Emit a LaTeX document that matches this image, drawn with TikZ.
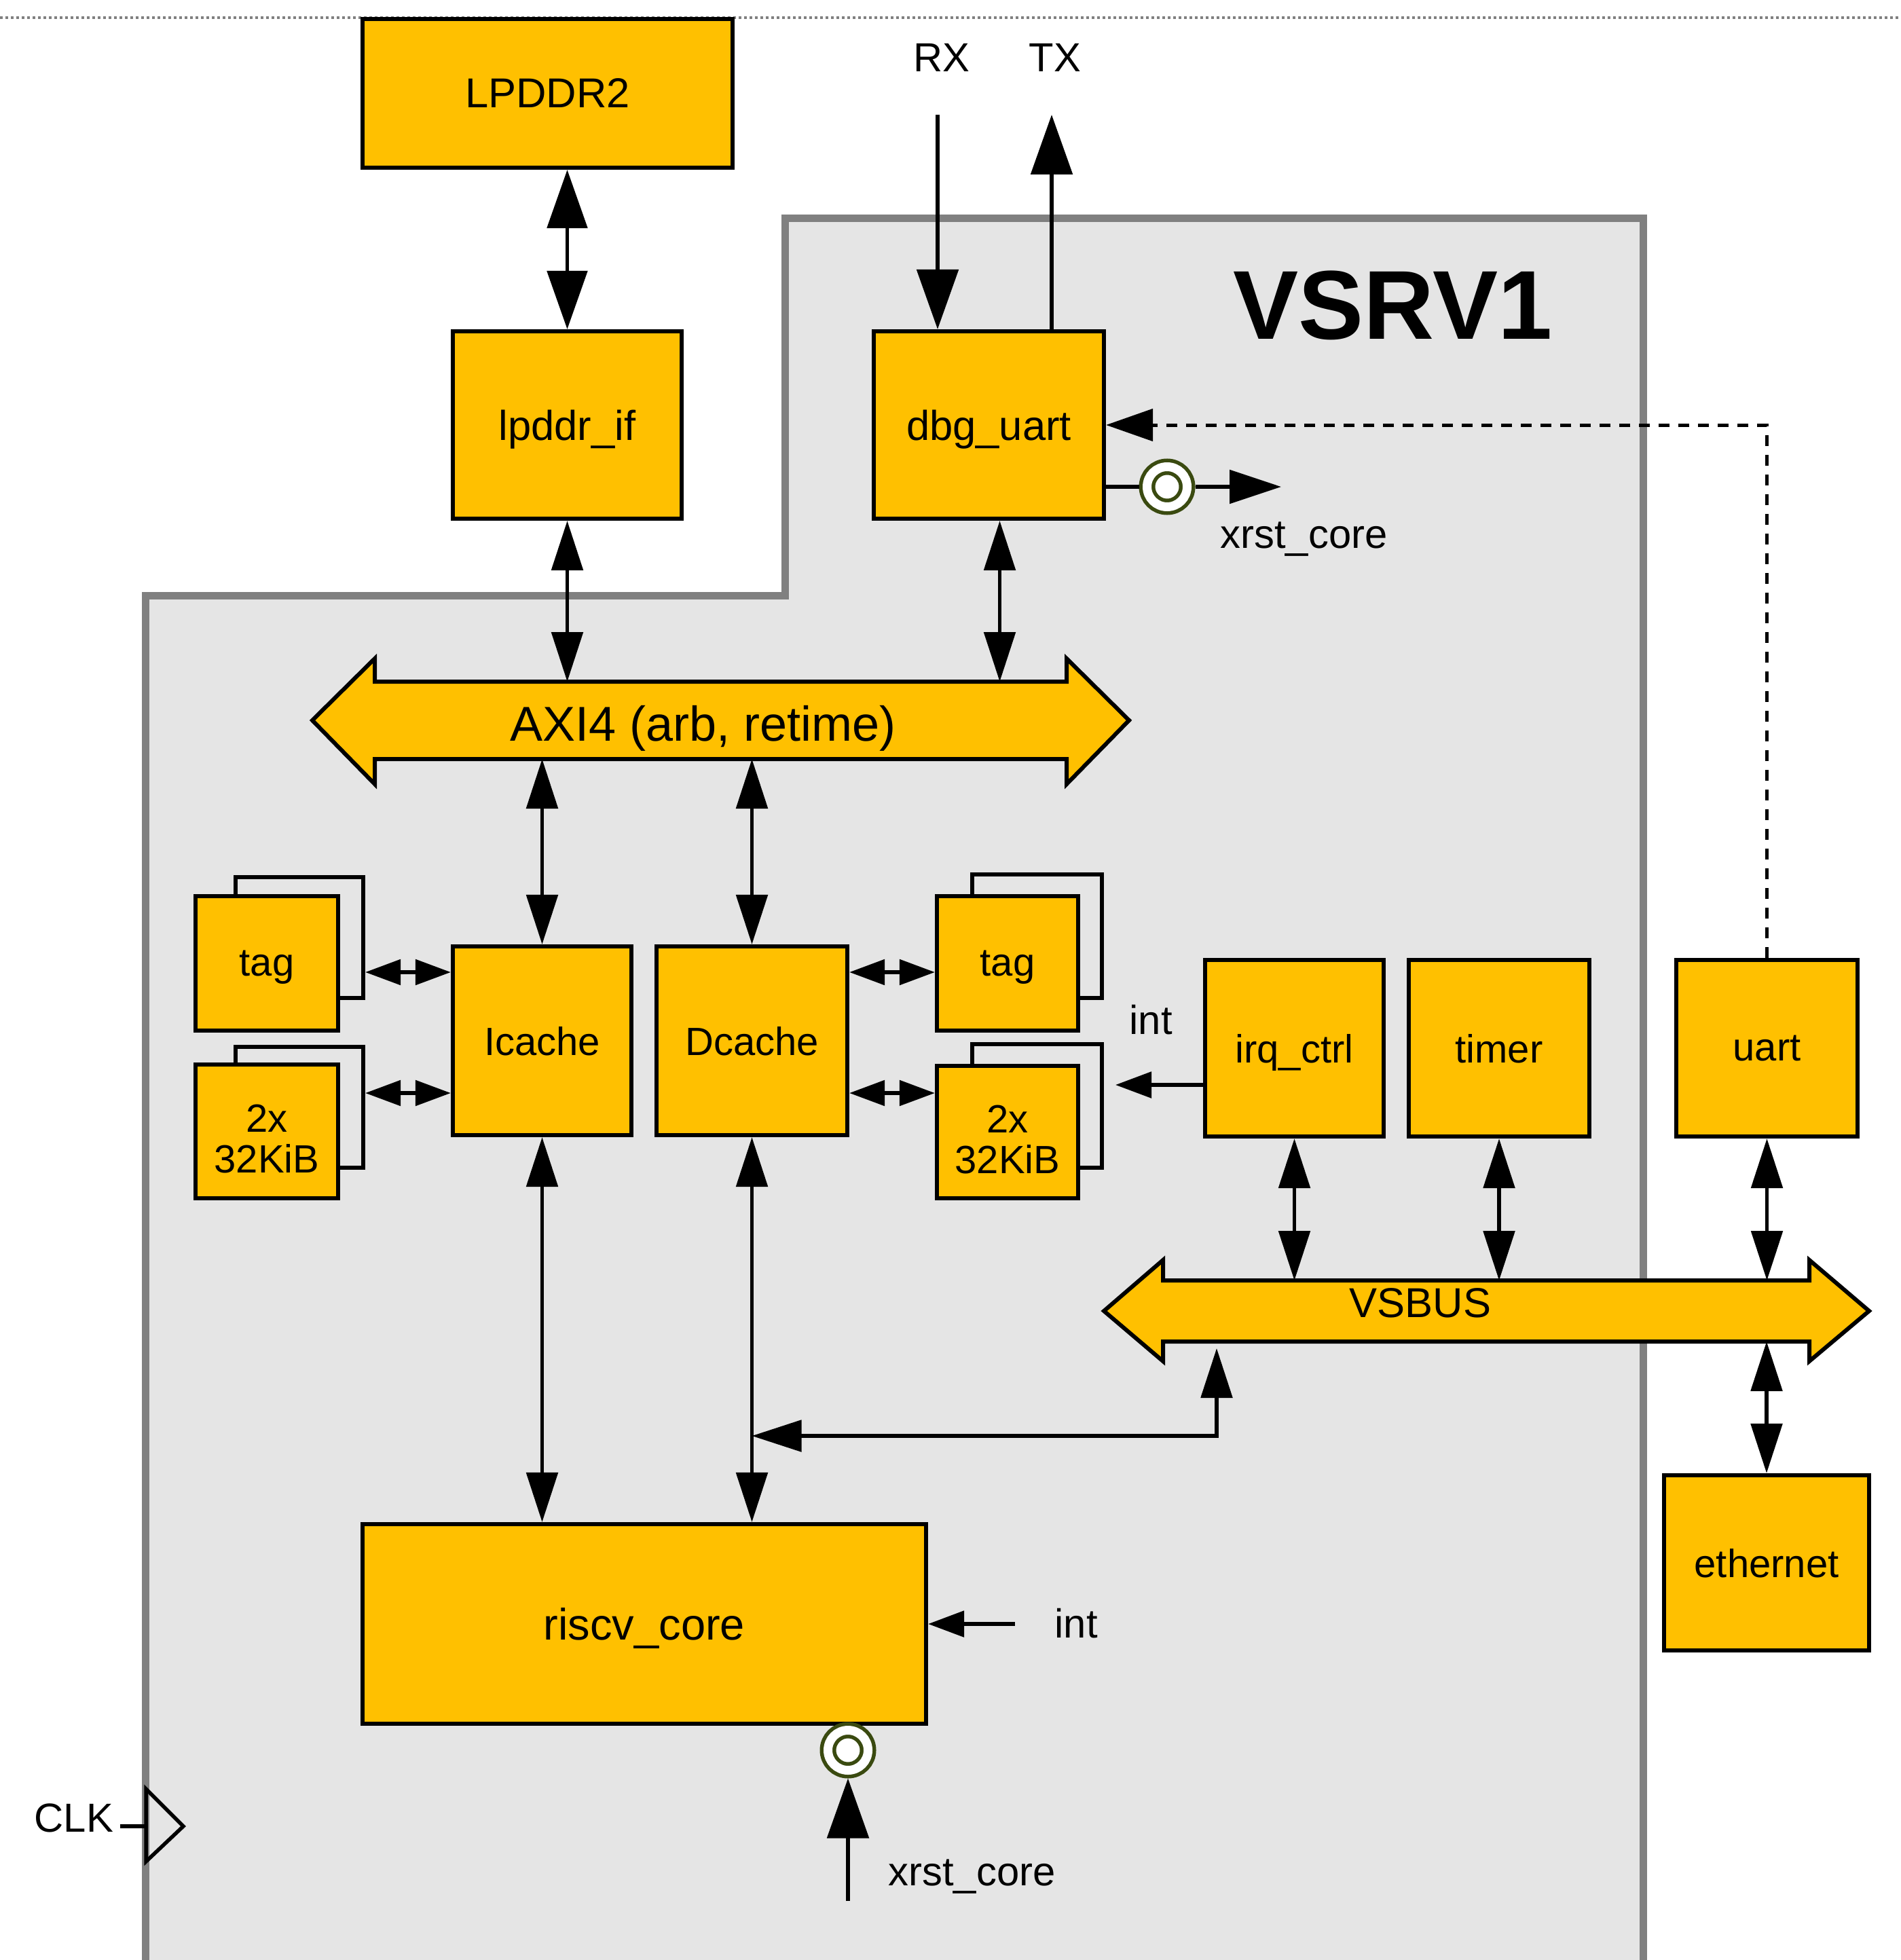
\documentclass[tikz,border=0pt]{standalone}
\usepackage{fontspec}
\setmainfont{Liberation Sans}
\usepackage{xcolor}
\definecolor{vsgold}{RGB}{255,192,0}
\definecolor{vsgrey}{RGB}{229,229,229}
\definecolor{vsframe}{RGB}{128,128,128}
\definecolor{vsolive}{RGB}{58,74,16}
\usepackage{tikz}
\usetikzlibrary{positioning,arrows.meta,backgrounds,calc}
\tikzset{
  unit/.style     ={rectangle,draw=black,fill=vsgold,line width=0.62mm,align=center,inner sep=0pt,
                    text depth=0pt,font=\fontsize{16.5pt}{17pt}\selectfont},
  bigunit/.style  ={unit,font=\fontsize{17.5pt}{19pt}\selectfont},
  ghost/.style    ={rectangle,draw=black,fill=vsgrey,line width=0.62mm,inner sep=0pt},
  memtext/.style  ={align=center,inner sep=0pt,yshift=-1.1mm,font=\fontsize{16.5pt}{17.2pt}\selectfont},
  busbody/.style  ={rectangle,inner sep=0pt,outer sep=0pt},
  busline/.style  ={draw=black,fill=vsgold,line width=0.6mm,line join=miter},
  lbl/.style      ={inner sep=0pt,font=\fontsize{17pt}{19pt}\selectfont},
  rst/.style      ={circle,draw=vsolive,line width=0.55mm,double=white,double distance=1.3mm,
                    fill=white,minimum size=5.9mm,inner sep=0pt,outer sep=1.2mm},
  link/.style     ={line width=0.55mm,draw=black},
  dblbig/.style   ={link,{Triangle[length=8.6mm,width=5.9mm]}-{Triangle[length=8.6mm,width=5.9mm]}},
  dblmid/.style   ={link,{Triangle[length=7.3mm,width=4.6mm]}-{Triangle[length=7.3mm,width=4.6mm]}},
  dblsmall/.style ={link,{Triangle[length=5.2mm,width=3.7mm]}-{Triangle[length=5.2mm,width=3.7mm]}},
  sigbig/.style   ={link,-{Triangle[length=8.8mm,width=6.1mm]}},
  sigmid/.style   ={link,-{Triangle[length=7.6mm,width=4.9mm]}},
  sigsmall/.style ={link,-{Triangle[length=5.3mm,width=3.8mm]}},
  ctrl/.style     ={link,line width=0.5mm,dash pattern=on 1.6mm off 1.3mm,-{Triangle[length=6.9mm,width=4.7mm]}},
  vsdot/.style    ={draw=vsframe,line width=0.45mm,dash pattern=on 0.4mm off 0.4mm},
  vsrvbox/.style  ={draw=vsframe,fill=vsgrey,line width=1.1mm,line join=miter},
}

\begin{document}
\begin{tikzpicture}
  \useasboundingbox (0,0) rectangle (27.99,-28.87);

  % ---- chip outline ----------------------------------------------------
  \begin{scope}[on background layer]
    \draw[vsdot] (0,-0.26) -- (27.99,-0.26);
    \draw[vsrvbox] (2.14,-29.2) -- (2.14,-8.77) -- (11.56,-8.77) -- (11.56,-3.22)
      -- (24.20,-3.22) -- (24.20,-29.2);
  \end{scope}
  \node[anchor=base west,inner sep=0pt,font=\bfseries\fontsize{41pt}{46pt}\selectfont]
    (title) at (18.16,-4.99) {VSRV1};

  % ---- memory and debug ------------------------------------------------
  \node[bigunit,minimum width=54.5mm,minimum height=21.9mm] (lpddr) at (8.065,-1.375) {LPDDR2};
  \node[bigunit,minimum width=33.7mm,minimum height=27.6mm] (lpddrif) at (8.355,-6.26) {lpddr\_if};
  \node[bigunit,minimum width=33.9mm,minimum height=27.6mm] (dbg) at (14.565,-6.26) {dbg\_uart};

  \coordinate (rxin) at (13.81,-1.69);
  \coordinate (txout) at (15.49,-1.69);
  \node[lbl,anchor=base west] (rx) at (13.45,-1.06) {RX};
  \node[lbl,anchor=base west] (tx) at (15.15,-1.06) {TX};
  \draw[sigbig] (rxin) -- (rxin |- dbg.north);
  \draw[sigbig] (txout |- dbg.north) -- (txout);
  \draw[dblbig] (lpddr.south -| lpddrif) -- (lpddrif.north);

  \node[rst] (rstU) at (17.19,-7.17) {};
  \coordinate (rstUout) at (18.87,-7.17);
  \draw[link] (dbg.east |- rstU) -- (rstU);
  \draw[sigmid] (rstU) -- (rstUout);
  \node[lbl,anchor=base west] (xrstU) at (17.97,-8.07) {xrst\_core};

  % ---- AXI4 bus --------------------------------------------------------
  \node[busbody,minimum width=101.9mm,minimum height=11.4mm,
        label={[xshift=-2.6mm,yshift=-1.2mm,font=\fontsize{20.5pt}{22pt}\selectfont]center:{AXI4 (arb, retime)}}]
    (axi) at (10.615,-10.61) {};
  \begin{scope}[on background layer]
    \draw[busline] (axi.north west) -- (axi.north east) -- ([yshift=3.4mm]axi.north east)
      -- ([xshift=9.2mm]axi.east) -- ([yshift=-3.7mm]axi.south east) -- (axi.south east)
      -- (axi.south west) -- ([yshift=-3.7mm]axi.south west) -- ([xshift=-9.2mm]axi.west)
      -- ([yshift=3.4mm]axi.north west) -- cycle;
  \end{scope}
  \draw[dblmid] (lpddrif.south) -- (lpddrif.south |- axi.north);
  \draw[dblmid] ([xshift=1.6mm]dbg.south) -- ([xshift=1.6mm]dbg.south |- axi.north);

  % ---- caches ----------------------------------------------------------
  \node[unit,minimum width=26.3mm,minimum height=27.8mm] (icache) at (7.985,-15.33) {Icache};
  \node[unit,minimum width=28.1mm,minimum height=27.8mm] (dcache) at (11.075,-15.33) {Dcache};

  \node[ghost,minimum width=18.8mm,minimum height=17.8mm] (tagLbk) at (4.41,-13.81) {};
  \node[unit,minimum width=21mm,minimum height=19.8mm] (tagL) at (3.93,-14.19) {tag};
  \node[ghost,minimum width=18.8mm,minimum height=17.8mm] (memLbk) at (4.41,-16.31) {};
  \node[unit,minimum width=21mm,minimum height=19.7mm,label={[memtext]center:{2x\\32KiB}}]
    (memL) at (3.93,-16.665) {};
  \node[ghost,minimum width=19.1mm,minimum height=18.2mm] (tagRbk) at (15.275,-13.79) {};
  \node[unit,minimum width=20.8mm,minimum height=19.8mm] (tagR) at (14.84,-14.19) {tag};
  \node[ghost,minimum width=19.1mm,minimum height=18.2mm] (memRbk) at (15.275,-16.29) {};
  \node[unit,minimum width=20.8mm,minimum height=19.5mm,label={[memtext]center:{2x\\32KiB}}]
    (memR) at (14.84,-16.675) {};

  \coordinate (tagrow) at (0,-14.32);
  \coordinate (memrow) at (0,-16.10);
  \draw[dblsmall] (tagLbk.east |- tagrow) -- (icache.west |- tagrow);
  \draw[dblsmall] (memLbk.east |- memrow) -- (icache.west |- memrow);
  \draw[dblsmall] (dcache.east |- tagrow) -- (tagR.west |- tagrow);
  \draw[dblsmall] (dcache.east |- memrow) -- (memR.west |- memrow);
  \draw[dblmid] (axi.south -| icache) -- (icache.north);
  \draw[dblmid] (axi.south -| dcache) -- (dcache.north);

  % ---- peripherals -----------------------------------------------------
  \node[unit,minimum width=26.3mm,minimum height=26mm] (irq) at (19.065,-15.44) {irq\_ctrl};
  \node[unit,minimum width=26.6mm,minimum height=26mm] (timer) at (22.08,-15.44) {timer};
  \node[unit,minimum width=26.7mm,minimum height=26mm] (uart) at (26.025,-15.44) {uart};
  \node[unit,minimum width=30.2mm,minimum height=25.8mm] (eth) at (26.02,-23.02) {ethernet};

  \coordinate (intA) at (16.43,-15.98);
  \draw[sigsmall] (irq.west |- intA) -- (intA);
  \node[lbl,anchor=base west] (intAlbl) at (16.63,-15.23) {int};
  \draw[ctrl] (uart.north) |- (dbg.east);

  % ---- VSBUS -----------------------------------------------------------
  \node[busbody,minimum width=95.2mm,minimum height=9mm,
        label={[xshift=-9.7mm,yshift=1.2mm,font=\fontsize{17.5pt}{19pt}\selectfont]center:VSBUS}]
    (vsbus) at (21.89,-19.31) {};
  \begin{scope}[on background layer]
    \draw[busline] (vsbus.north west) -- (vsbus.north east) -- ([yshift=3mm]vsbus.north east)
      -- ([xshift=8.8mm]vsbus.east) -- ([yshift=-2.9mm]vsbus.south east) -- (vsbus.south east)
      -- (vsbus.south west) -- ([yshift=-2.9mm]vsbus.south west) -- ([xshift=-8.7mm]vsbus.west)
      -- ([yshift=3mm]vsbus.north west) -- cycle;
  \end{scope}
  \draw[dblmid] (irq.south) -- (irq.south |- vsbus.north);
  \draw[dblmid] (timer.south) -- (timer.south |- vsbus.north);
  \draw[dblmid] (uart.south) -- (uart.south |- vsbus.north);
  \draw[dblmid] (vsbus.south -| eth) -- (eth.north);

  % ---- core ------------------------------------------------------------
  \node[unit,minimum width=83mm,minimum height=29.4mm,font=\fontsize{18.5pt}{20pt}\selectfont]
    (riscv) at (9.49,-23.92) {riscv\_core};
  \draw[dblmid] (icache.south) -- (icache.south |- riscv.north);
  \draw[dblmid] (dcache.south) -- (dcache.south |- riscv.north);
  \coordinate (vsjoin) at (17.92,-21.15);
  \draw[dblmid] ([yshift=-1mm]vsjoin |- vsbus.south) -- (vsjoin) -- (vsjoin -| dcache.south);

  \coordinate (intB) at (14.95,-23.92);
  \draw[sigsmall] (intB) -- (riscv.east);
  \node[lbl,anchor=base west] (intBlbl) at (15.53,-24.12) {int};

  \node[rst] (rstB) at (12.49,-25.78) {};
  \coordinate (rstBin) at (12.49,-28.0);
  \draw[sigbig] (rstBin) -- (rstB);
  \node[lbl,anchor=base west] (xrstB) at (13.08,-27.77) {xrst\_core};

  % ---- clock pin -------------------------------------------------------
  \node[lbl,anchor=base west] (clk) at (0.50,-26.98) {CLK};
  \coordinate (clkpin) at (2.15,-26.90);
  \draw[link,line width=0.55mm,line join=miter] ([yshift=5.5mm]clkpin) -- ([yshift=-5.2mm]clkpin)
    -- ([xshift=5.5mm]clkpin) -- cycle;
  \draw[link] ([xshift=-3.8mm]clkpin) -- (clkpin);
\end{tikzpicture}
\end{document}
